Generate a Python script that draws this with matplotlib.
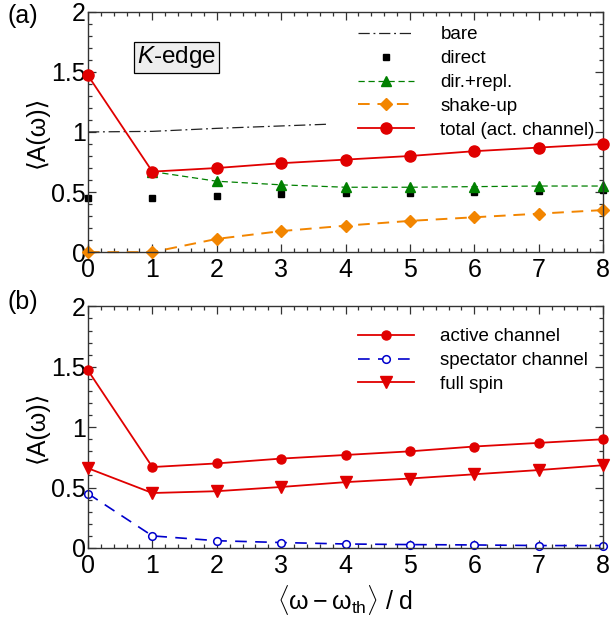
import numpy as np
import matplotlib
matplotlib.use("Agg")
import matplotlib.pyplot as plt
from matplotlib.ticker import MultipleLocator, FuncFormatter

plt.rcParams['font.family'] = ['Liberation Sans', 'DejaVu Sans']
plt.rcParams['mathtext.fontset'] = 'custom'
plt.rcParams['mathtext.rm'] = 'Liberation Sans'
plt.rcParams['mathtext.it'] = 'Liberation Sans:italic'

# data
x = [0, 1, 2, 3, 4, 5, 6, 7, 8]
bare_x = [0, 1, 2, 3, 3.75]
bare = [1.0, 1.005, 1.03, 1.05, 1.065]
direct = [0.45, 0.45, 0.47, 0.48, 0.49, 0.49, 0.50, 0.51, 0.52]
dir_repl_x = [1, 2, 3, 4, 5, 6, 7, 8]
dir_repl = [0.67, 0.59, 0.56, 0.54, 0.54, 0.545, 0.55, 0.55]
shake_up = [0.0, 0.0, 0.11, 0.175, 0.22, 0.26, 0.29, 0.32, 0.35]
total = [1.47, 0.67, 0.70, 0.74, 0.77, 0.80, 0.84, 0.87, 0.90]

active = total
spectator = [0.45, 0.10, 0.06, 0.045, 0.033, 0.028, 0.025, 0.02, 0.02]
full_spin = [0.66, 0.455, 0.47, 0.505, 0.545, 0.575, 0.61, 0.645, 0.685]

red = '#e00000'
green = '#008000'
orange = '#f28500'
blue = '#0000cc'

fig = plt.figure(figsize=(6.11, 6.21), dpi=100)
ax1 = fig.add_axes([0.144, 0.594, 0.843, 0.387])
ax2 = fig.add_axes([0.144, 0.1176, 0.843, 0.389])

def style(ax):
    ax.set_xlim(0, 8)
    ax.set_ylim(0, 2)
    ax.xaxis.set_major_locator(MultipleLocator(1))
    ax.xaxis.set_minor_locator(MultipleLocator(0.2))
    ax.yaxis.set_major_locator(MultipleLocator(0.5))
    ax.yaxis.set_minor_locator(MultipleLocator(0.1))
    ax.yaxis.set_major_formatter(FuncFormatter(lambda v, p: f'{v:g}'))
    ax.tick_params(which='both', direction='in', top=True, right=True,
                   labelsize=18, color='#333333', width=0.9)
    ax.tick_params(which='major', length=6)
    ax.tick_params(axis='y', which='major', pad=1.5)
    ax.tick_params(axis='x', which='major', pad=4)
    ax.tick_params(which='minor', length=3)
    for s in ax.spines.values():
        s.set_color('#333333')
        s.set_linewidth(1.0)
    ax.set_ylabel('⟨A(ω)⟩', fontsize=18, labelpad=2)

style(ax1)
style(ax2)

leg_kw = dict(loc='upper left', frameon=False, fontsize=13.5, handlelength=3.0,
              handletextpad=1.4, labelspacing=0.36, borderpad=0, borderaxespad=0)

# panel (a)
ax1.plot(bare_x, bare, color='#222222', lw=0.9, dashes=(9, 3, 1.5, 3), label='bare')
ax1.plot(x, direct, 's', color='black', ms=3.8, ls='none', label='direct', clip_on=False)
ax1.plot(dir_repl_x, dir_repl, color=green, lw=0.9, dashes=(5, 3), marker='^', ms=7.5,
         label='dir.+repl.', clip_on=False)
ax1.plot(x, shake_up, color=orange, lw=1.4, dashes=(6, 4), marker='D', ms=6,
         label='shake-up', clip_on=False)
ax1.plot(x, total, color=red, lw=1.3, marker='o', ms=8, label='total (act. channel)',
         clip_on=False, zorder=3)
ax1.legend(bbox_to_anchor=(0.524, 0.94), **leg_kw)
ax1.text(0.171, 0.81, '$K$-edge', transform=ax1.transAxes, fontsize=17.5, ha='center',
         va='center', bbox=dict(boxstyle='square,pad=0.12', fc='#eeeeee', ec='black', lw=0.9))

# panel (b)
ax2.plot(x, active, color=red, lw=1.3, marker='o', ms=6.5, label='active channel',
         clip_on=False, zorder=3)
ax2.plot(x, spectator, color=blue, lw=1.2, dashes=(7, 5), marker='o', ms=5.5, mfc='white',
         mew=1.1, label='spectator channel', clip_on=False)
ax2.plot(x, full_spin, color=red, lw=1.3, marker='v', ms=9, label='full spin',
         clip_on=False, zorder=3)
ax2.legend(bbox_to_anchor=(0.524, 0.91), **leg_kw)
ax2.set_xlabel(r'$\langle\mathrm{\omega} - \mathrm{\omega}_{\mathrm{th}}\rangle$ / d',
               fontsize=18, labelpad=4)

fig.text(0.012, 1 - 16 / 621, '(a)', fontsize=18, va='center')
fig.text(0.012, 1 - 302 / 621, '(b)', fontsize=18, va='center')

fig.savefig('out.png', dpi=100)
